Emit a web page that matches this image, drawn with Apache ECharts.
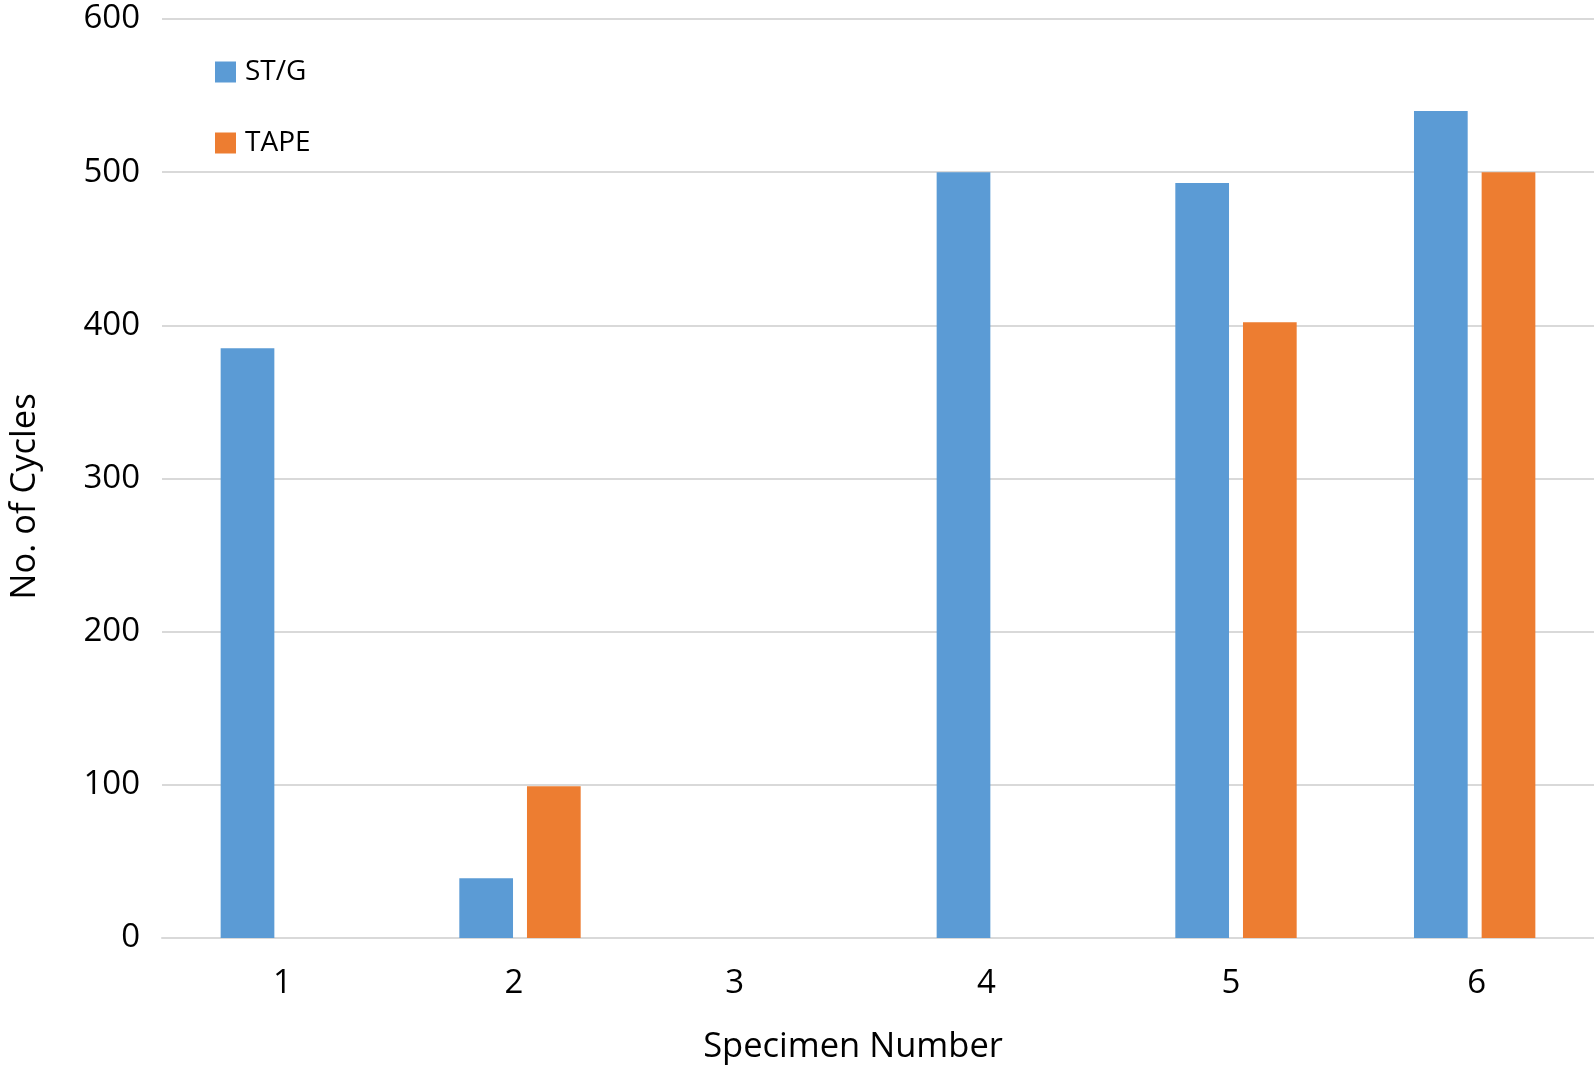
<!DOCTYPE html>
<html>
<head>
<meta charset="utf-8">
<script src="https://cdn.jsdelivr.net/npm/echarts@6/dist/echarts.min.js"></script>
<style>html,body{margin:0;padding:0;background:#fff}#c{width:1594px;height:1070px}</style>
</head>
<body>
<div id="c"></div>
<script>
const categories = ['1', '2', '3', '4', '5', '6'];
const stgValues = [385, 39, 0, 500, 493, 540];
const tapeValues = [0, 99, 0, 0, 402, 500];
const yTicks = { min: 0, max: 600, interval: 100 };

const chart = echarts.init(document.getElementById('c'));
const font = '"Open Sans", sans-serif';

// label style: small horizontal nudges to mimic original label placement
const labelNudge = [1, -6, -24, -11, -5, 2];
const rich = {};
labelNudge.forEach((d, i) => {
  rich['c' + i] = {
    fontSize: 33, color: '#000', fontFamily: font,
    padding: d < 0 ? [0, -2 * d, 0, 0] : [0, 0, 0, 2 * d]
  };
});

chart.setOption({
  animation: false,
  textStyle: { fontFamily: font },
  grid: { left: 155, right: 0, top: 19, bottom: 130.5, containLabel: false },
  legend: {
    orient: 'vertical', left: 215, top: 58, padding: 0,
    itemWidth: 21, itemHeight: 21, itemGap: 43, icon: 'rect',
    textStyle: { fontSize: 28, color: '#000', fontFamily: font, padding: [0, 0, 0, 4] },
    data: ['ST/G', 'TAPE']
  },
  xAxis: {
    type: 'category', data: categories,
    name: 'Specimen Number', nameLocation: 'middle', nameGap: 92,
    nameTextStyle: { fontSize: 34.5, color: '#000', fontFamily: font, padding: [0, 50, 0, 0] },
    axisLine: { lineStyle: { color: '#D9D9D9', width: 2 } },
    axisTick: { show: false },
    axisLabel: {
      fontSize: 33, color: '#000', margin: 29, fontFamily: font,
      formatter: (v, i) => '{c' + i + '|' + v + '}',
      rich: rich
    }
  },
  yAxis: {
    type: 'value', min: yTicks.min, max: yTicks.max, interval: yTicks.interval,
    name: 'No. of Cycles', nameLocation: 'middle', nameGap: 119,
    nameTextStyle: { fontSize: 34.5, color: '#000', fontFamily: font, padding: [0, 36, 0, 0] },
    axisLine: { show: false }, axisTick: { show: false },
    splitLine: { lineStyle: { color: '#D9D9D9', width: 2 } },
    axisLabel: { fontSize: 33, color: '#000', margin: 22, fontFamily: font }
  },
  series: [
    { name: 'ST/G', type: 'bar', data: stgValues, barWidth: '22.5%', barGap: '26%', itemStyle: { color: '#5B9BD5' } },
    { name: 'TAPE', type: 'bar', data: tapeValues, barWidth: '22.5%', barGap: '26%', itemStyle: { color: '#ED7D31' } }
  ]
});
</script>
</body>
</html>
